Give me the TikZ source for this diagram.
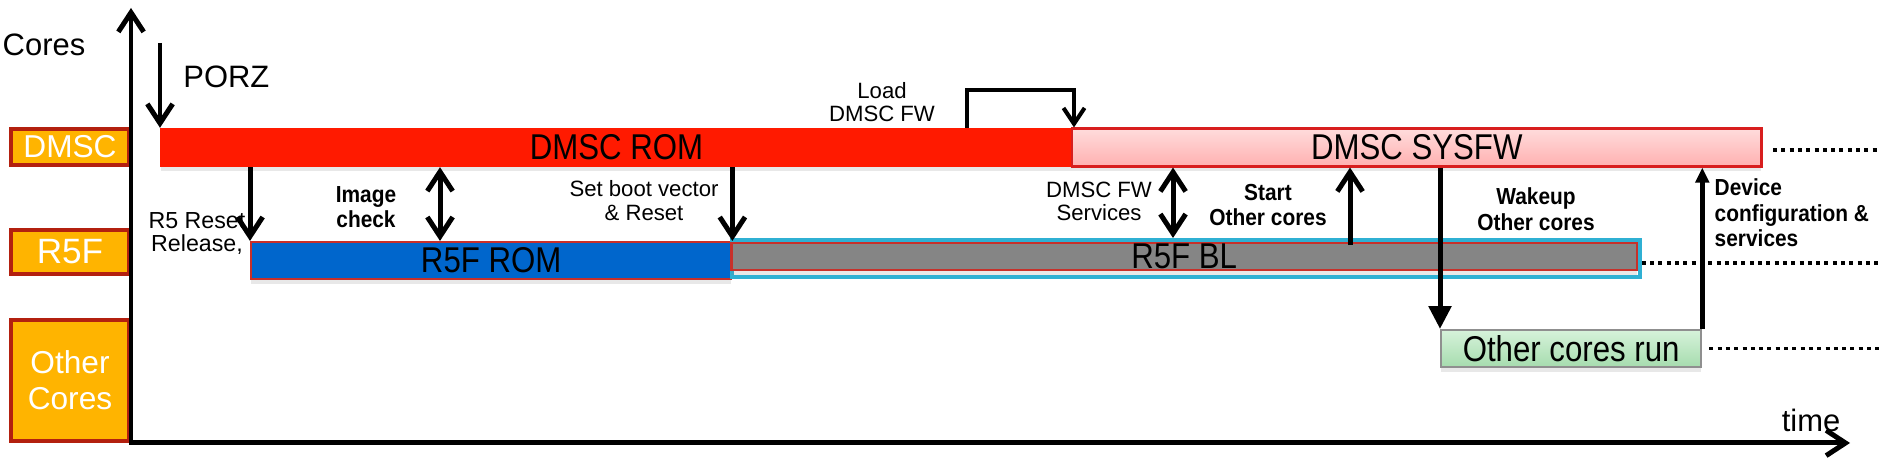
\documentclass[tikz,border=0pt]{standalone}
\usepackage{fontspec}
\setmainfont{Liberation Sans}
\newfontfamily\narrowfont[FakeStretch=0.87]{Liberation Sans}
\newfontfamily\condfont[FakeStretch=0.9]{Liberation Sans}
\usepackage{xcolor}
\usetikzlibrary{arrows.meta,calc,shadows}
\definecolor{BootOrange}{HTML}{FFB400}
\definecolor{BootEdge}{HTML}{B3200F}
\definecolor{RomRed}{HTML}{FF1A00}
\definecolor{SysEdge}{HTML}{D81E1E}
\definecolor{SysTop}{HTML}{FFDCDC}
\definecolor{SysBottom}{HTML}{FFB0B0}
\definecolor{RomBlue}{HTML}{0066CC}
\definecolor{ThinRed}{HTML}{C8302A}
\definecolor{BlGray}{HTML}{858585}
\definecolor{BlCyan}{HTML}{2FB0D3}
\definecolor{RunTop}{HTML}{D6F2DA}
\definecolor{RunBottom}{HTML}{A6DCAE}
\definecolor{RunEdge}{HTML}{8F8F8F}
\tikzset{
  flow/.style={-{Straight Barb[length=5.5pt,width=7.2pt]},line width=1.42pt},
  twoway/.style={{Straight Barb[length=5.5pt,width=7.2pt]}-{Straight Barb[length=5.5pt,width=7.2pt]},line width=1.42pt},
  solidflow/.style={-{Triangle[length=6.5pt,width=6.3pt]},line width=1.42pt},
  slimflow/.style={-{Triangle[length=4.3pt,width=3.8pt]},line width=1.3pt},
  loadflow/.style={-{Straight Barb[length=4.5pt,width=6pt]},line width=1.15pt},
  timeaxis/.style={{Straight Barb[length=5.5pt,width=7.2pt]}-{Straight Barb[length=5.5pt,width=7.2pt]},line width=1.42pt},
  trail/.style={line width=1pt,dash pattern=on 1.14pt off 1.22pt},
  corebox/.style={draw=BootEdge,fill=BootOrange,line width=1.14pt,text=white,
    inner sep=0pt,align=center,minimum width=1.18cm,font=\fontsize{9}{10.3}\selectfont},
  phase/.style={anchor=west,inner sep=0pt,minimum height=0.38cm,
    font=\narrowfont\fontsize{10.2}{12}\selectfont,
    drop shadow={shadow xshift=0pt,shadow yshift=-1.3pt,opacity=0.18}},
  rombar/.style={phase,fill=RomRed,draw=RomRed},
  sysbar/.style={phase,draw=SysEdge,line width=0.6pt,top color=SysTop,bottom color=SysBottom},
  r5bar/.style={phase,fill=RomBlue,draw=ThinRed,line width=0.6pt},
  blbar/.style={phase,fill=BlGray,draw=ThinRed,line width=0.8pt},
  blframe/.style={anchor=west,inner sep=0pt,draw=BlCyan,line width=1.14pt},
  runbar/.style={phase,draw=RunEdge,line width=0.6pt,top color=RunTop,bottom color=RunBottom},
  axistext/.style={font=\fontsize{8.8}{10.5}\selectfont},
  note/.style={align=center,inner sep=0pt,font=\fontsize{6.3}{6.6}\selectfont},
  boldnote/.style={align=center,inner sep=0pt,font=\condfont\bfseries\fontsize{6.6}{7.3}\selectfont}
}
\begin{document}
\begin{tikzpicture}[x=0.01cm,y=-0.01cm]
  \useasboundingbox (0,0) rectangle (1891,459);
  % cores column
  \node[corebox,minimum height=0.36cm] (lbldmsc) at (70,147) {DMSC};
  \node[corebox,minimum height=0.44cm,font=\fontsize{10}{11}\selectfont] (lblr5f) at (70,252) {R5F};
  \node[corebox,minimum height=1.21cm] (lblother) at (70,380.5) {Other\\Cores};
  \coordinate (ytop) at (131,8);
  \coordinate (origin) at (131,443);
  \coordinate (xend) at (1850,443);
  \draw[timeaxis] (ytop) -- (origin) -- (xend);
  \node[axistext] (cores) at (44,45) {Cores};
  \node[axistext] (time) at (1811,420) {time};

  % phases
  \node[rombar,minimum width=9.11cm] (dmscrom) at (160,147.5) {DMSC ROM};
  \node[sysbar,minimum width=6.89cm] (sysfw) at (1071,147.5) {DMSC SYSFW};
  \node[r5bar,minimum width=4.80cm,minimum height=0.37cm] (r5rom) at (250,260.5) {R5F ROM};
  \node[blframe,minimum width=9.07cm,minimum height=0.37cm] (r5blframe) at (730,258.5) {};
  \node[blbar,minimum width=9.05cm,minimum height=0.27cm] (r5bl) at (730,256.5) {R5F BL};
  \node[runbar,minimum width=2.60cm,minimum height=0.37cm] (othrun) at (1440,348.5) {Other cores run};

  % trailing dots
  \coordinate (dotend) at (1880,0);
  \draw[trail] ([xshift=3pt,yshift=-0.7pt]sysfw.east) -- ([yshift=-0.7pt]sysfw.east -| dotend);
  \draw[trail] ([xshift=1pt,yshift=-1.85pt]r5bl.east) -- ([yshift=-1.85pt]r5bl.east -| dotend);
  \draw[trail] ([xshift=2pt]othrun.east) -- (othrun.east -| dotend);

  % events
  \coordinate (porztop) at (160,43);
  \draw[flow] (porztop) -- (dmscrom.north west);
  \node[axistext,anchor=west] (porz) at (171,77) {PORZ};

  \draw[flow] (dmscrom.south -| r5rom.north west) -- (r5rom.north west);
  \node[note,font=\fontsize{6.6}{6.6}\selectfont] (r5note) at (197,233.5) {R5 Reset\\Release,};

  \coordinate (imgx) at (440,0);
  \draw[twoway] (dmscrom.south -| imgx) -- (r5rom.north -| imgx);
  \node[boldnote] (imgchk) at (366,207) {Image\\check};

  \draw[flow] (dmscrom.south -| r5rom.north east) -- (r5rom.north east);
  \node[note] (bootvec) at (644,200.5) {Set boot vector\\\& Reset};

  \coordinate (loadtop) at (967,90);
  \draw[loadflow] (dmscrom.north -| loadtop) -- (loadtop) -| ([xshift=0.85pt]sysfw.north west);
  \node[note] (loadfw) at (882,102) {Load\\DMSC FW};

  \coordinate (fwx) at (1173,0);
  \draw[twoway] (sysfw.south -| fwx) -- (r5blframe.north -| fwx);
  \node[note] (fwserv) at (1099,201) {DMSC FW\\Services};

  \coordinate (startx) at (1350,0);
  \draw[flow] ([yshift=-1pt]r5bl.north -| startx) -- (sysfw.south -| startx);
  \node[boldnote] (startoc) at (1268,205) {Start\\Other cores};

  \draw[solidflow] (sysfw.south -| othrun.north west) -- (othrun.north west);
  \node[boldnote] (wakeoc) at (1536,209) {Wakeup\\Other cores};

  \draw[slimflow] (othrun.north east) -- (sysfw.south -| othrun.north east);
  \node[boldnote,align=left,anchor=west] (devcfg) at (1714,213) {Device\\configuration \&\\services};
\end{tikzpicture}
\end{document}
